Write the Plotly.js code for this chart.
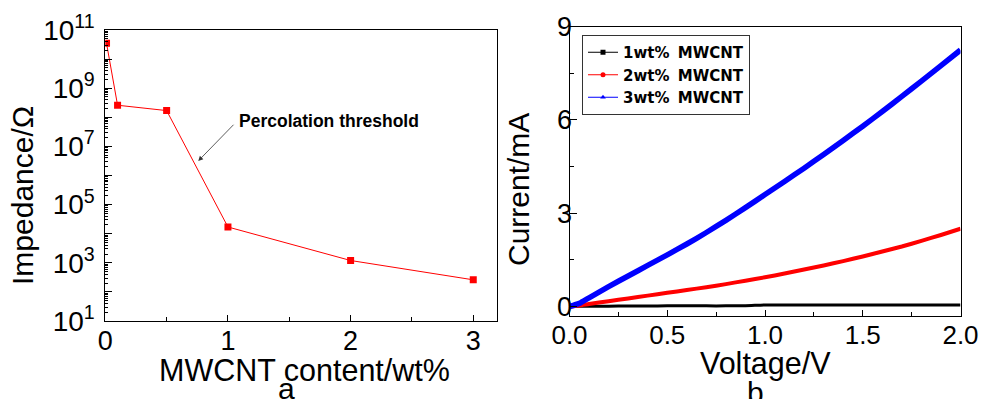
<!DOCTYPE html>
<html><head><meta charset="utf-8">
<script src="https://cdn.plot.ly/plotly-3.0.1.min.js"></script>
<style>html,body{margin:0;padding:0;background:#fff}</style>
</head><body><div id="chart" style="width:982px;height:399px"></div>
<script>
// ---- Panel a: impedance vs MWCNT content ----
const contentWt = [0.01, 0.1, 0.5, 1, 2, 3];
const impedance = [3.5e10, 2.6e8, 1.7e8, 1.7e4, 1.2e3, 2.6e2];
const impTickVals = [1e1, 1e2, 1e3, 1e4, 1e5, 1e6, 1e7, 1e8, 1e9, 1e10, 1e11];
const impTickText = ['10<sup>1</sup>', '', '10<sup>3</sup>', '', '10<sup>5</sup>', '', '10<sup>7</sup>', '', '10<sup>9</sup>', '', '10<sup>11</sup>'];
const contentTickVals = [0, 1, 2, 3];
const contentTickText = ['0', '1', '2', '3'];

// ---- Panel b: I-V curves ----
const voltage  = [0, 0.05, 0.1, 0.2, 0.3, 0.4, 0.5, 0.6, 0.7, 0.8, 0.9, 1.0, 1.1, 1.2, 1.3, 1.4, 1.5, 1.6, 1.7, 1.8, 1.9, 2.0];
const current1 = [0, 0.005, 0.01, 0.01, 0.015, 0.015, 0.02, 0.02, 0.02, 0.02, 0.025, 0.05, 0.05, 0.05, 0.05, 0.05, 0.05, 0.05, 0.05, 0.05, 0.05, 0.05];
const current2 = [0, 0.03, 0.08, 0.17, 0.26, 0.35, 0.44, 0.53, 0.62, 0.72, 0.83, 0.94, 1.06, 1.19, 1.32, 1.46, 1.61, 1.77, 1.93, 2.11, 2.30, 2.50];
const current3 = [0, 0.10, 0.28, 0.64, 0.98, 1.32, 1.66, 2.01, 2.38, 2.77, 3.18, 3.60, 4.02, 4.45, 4.89, 5.34, 5.80, 6.27, 6.76, 7.25, 7.75, 8.25];
const seriesNames = ['1wt%\u2009 MWCNT', '2wt%\u2009 MWCNT', '3wt%\u2009 MWCNT'];
const seriesColors = ['#000000', '#ff0000', '#0000ff'];
const seriesSymbols = ['square', 'circle', 'triangle-up'];
const voltTickVals = [0, 0.5, 1.0, 1.5, 2.0];
const voltTickText = ['0.0', '0.5', '1.0', '1.5', '2.0'];
const currTickVals = [0, 3, 6, 9];
const currTickText = ['0', '3', '6', '9'];

const W = 982, H = 399;
const px = v => v / W;
const py = v => 1 - v / H;

const minorLog = [];
for (let d = 1; d < 11; d++) for (let k = 2; k <= 9; k++) minorLog.push(k * Math.pow(10, d));

const FONT = 'Liberation Sans, Arial, sans-serif';
const LEGFONT = 'DejaVu Sans, Liberation Sans, sans-serif';
const currents = [current1, current2, current3];
const widths = [3, 4, 5.5];

const traces = [{
  x: contentWt, y: impedance, xaxis: 'x', yaxis: 'y', type: 'scatter', mode: 'lines+markers',
  line: {color: '#ff0000', width: 1}, marker: {symbol: 'square', size: 7, color: '#ff0000'},
  showlegend: false
}];
currents.forEach((c, i) => {
  traces.push({
    x: voltage, y: c, xaxis: 'x2', yaxis: 'y2', type: 'scatter', mode: 'lines',
    line: {color: seriesColors[i], width: widths[i], shape: 'spline', smoothing: 0.6},
    showlegend: false, hoverinfo: 'skip'
  });
});
// legend-only samples (thin line + small marker as in the reference legend)
seriesNames.forEach((n, i) => {
  traces.push({
    x: [null], y: [null], xaxis: 'x2', yaxis: 'y2', type: 'scatter', mode: 'lines+markers', name: n,
    line: {color: seriesColors[i], width: 1}, marker: {symbol: seriesSymbols[i], size: 5, color: seriesColors[i]}
  });
});

const axCommon = {
  showline: true, linecolor: '#000', linewidth: 1, mirror: true, ticks: 'inside',
  tickcolor: '#000', showgrid: false, zeroline: false, fixedrange: true
};

const layout = {
  width: W, height: H, margin: {l: 0, r: 0, t: 0, b: 0},
  paper_bgcolor: '#fff', plot_bgcolor: '#fff',
  font: {family: FONT, color: '#000'},
  xaxis: Object.assign({}, axCommon, {
    domain: [px(105.3), px(497.3)], range: [0, 3.196], anchor: 'y',
    tickmode: 'array', tickvals: contentTickVals, ticktext: contentTickText, ticklen: 6,
    tickfont: {size: 27, family: FONT}, ticklabelstandoff: -4,
    minor: {dtick: 0.5, tick0: 0, ticks: 'inside', ticklen: 4, tickcolor: '#000'}
  }),
  yaxis: Object.assign({}, axCommon, {
    type: 'log', domain: [1 - 321 / H, 1 - 30 / H], range: [1, 11], anchor: 'x',
    tickmode: 'array', tickvals: impTickVals, ticktext: impTickText, ticklen: 7,
    tickfont: {size: 28, family: FONT}, ticklabelstandoff: 4,
    minor: {tickmode: 'array', tickvals: minorLog, ticks: 'inside', ticklen: 3, tickcolor: '#000'}
  }),
  xaxis2: Object.assign({}, axCommon, {
    domain: [px(569.5), px(960.5)], range: [0, 2.0], anchor: 'y2',
    tickmode: 'array', tickvals: voltTickVals, ticktext: voltTickText, ticklen: 6,
    tickfont: {size: 26, family: FONT}, ticklabelstandoff: -4,
    minor: {dtick: 0.25, tick0: 0, ticks: 'inside', ticklen: 4, tickcolor: '#000'}
  }),
  yaxis2: Object.assign({}, axCommon, {
    domain: [1 - 316 / H, 1 - 26.7 / H], range: [-0.306, 9], anchor: 'x2',
    tickmode: 'array', tickvals: currTickVals, ticktext: currTickText, ticklen: 7,
    tickfont: {size: 27, family: FONT}, ticklabelstandoff: -9,
    minor: {dtick: 1.5, tick0: 0, ticks: 'inside', ticklen: 4, tickcolor: '#000'}
  }),
  legend: {
    x: px(582), y: py(35), xanchor: 'left', yanchor: 'top',
    bgcolor: '#fff', bordercolor: '#333', borderwidth: 1,
    font: {size: 15, family: LEGFONT, weight: 'bold', color: '#000'},
    tracegroupgap: 0, itemclick: false, itemdoubleclick: false
  },
  annotations: [
    {xref: 'paper', yref: 'paper', x: px(22), y: py(196), text: 'Impedance/Ω', textangle: -90,
     showarrow: false, xanchor: 'center', yanchor: 'middle', font: {size: 30, family: FONT}},
    {xref: 'paper', yref: 'paper', x: px(304), y: py(370), text: 'MWCNT content/wt%',
     showarrow: false, xanchor: 'center', yanchor: 'middle', font: {size: 30.5, family: FONT}},
    {xref: 'paper', yref: 'paper', x: px(286.5), y: py(388), text: 'a',
     showarrow: false, xanchor: 'center', yanchor: 'middle', font: {size: 30, family: FONT}},
    {xref: 'paper', yref: 'paper', x: px(518), y: py(190), text: 'Current/mA', textangle: -90,
     showarrow: false, xanchor: 'center', yanchor: 'middle', font: {size: 30, family: FONT}},
    {xref: 'paper', yref: 'paper', x: px(765), y: py(363.5), text: 'Voltage/V',
     showarrow: false, xanchor: 'center', yanchor: 'middle', font: {size: 30.5, family: FONT}},
    {xref: 'paper', yref: 'paper', x: px(755), y: py(392), text: 'b',
     showarrow: false, xanchor: 'center', yanchor: 'middle', font: {size: 30, family: FONT}},
    {xref: 'paper', yref: 'paper', x: px(237), y: py(121.3), text: 'Percolation threshold',
     showarrow: false, xanchor: 'left', yanchor: 'middle', font: {size: 17.5, family: FONT, weight: 'bold'}},
    {xref: 'x', yref: 'y', x: 0.758, y: 6.5, text: '', showarrow: true,
     ax: 36.7, ay: -37.7, axref: 'pixel', ayref: 'pixel', arrowhead: 2, arrowsize: 1.2,
     arrowwidth: 0.8, arrowcolor: '#333', standoff: 0, startstandoff: 0}
  ]
};

Plotly.newPlot('chart', traces, layout, {staticPlot: true, displayModeBar: false});
</script></body></html>
